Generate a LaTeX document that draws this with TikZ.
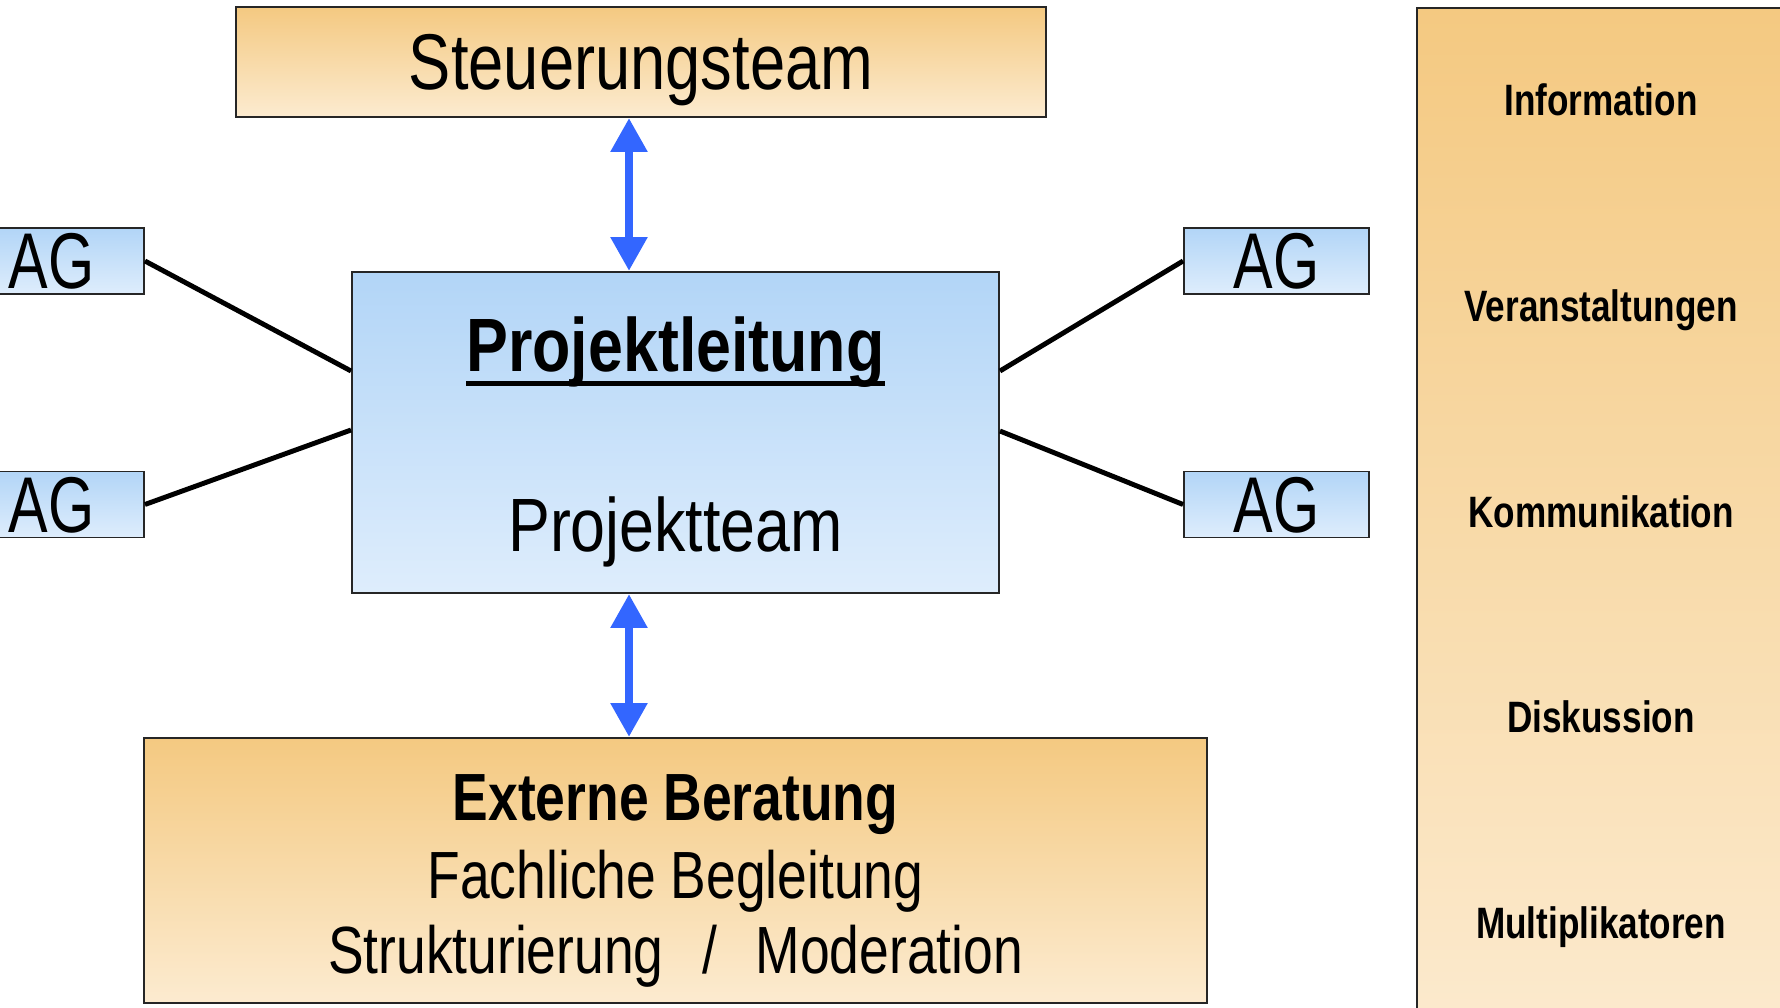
\documentclass[tikz,border=0pt]{standalone}
\usepackage{fontspec}
\setmainfont{Liberation Sans}[FakeStretch=0.8]
\newfontfamily\plschrift{Liberation Sans}[FakeStretch=0.83]
\newfontfamily\agschrift{Liberation Sans}[FakeStretch=0.75]
\usetikzlibrary{arrows.meta,positioning}

\definecolor{orgTop}{HTML}{F4C981}
\definecolor{orgBot}{HTML}{FCEBD0}
\definecolor{bluTop}{HTML}{B2D5F7}
\definecolor{bluBot}{HTML}{DEEDFC}
\definecolor{pfeil}{HTML}{3366FF}
% dicke Unterstreichung
\newcommand{\dickunter}[1]{\setbox0\hbox{#1}\copy0\llap{\rule[-7.8pt]{\wd0}{2.8pt}}}

\tikzset{
  orgbox/.style={draw=black!85, line width=1.1pt, top color=orgTop, bottom color=orgBot, inner sep=0pt},
  blubox/.style={draw=black!85, line width=1.1pt, top color=bluTop, bottom color=bluBot, inner sep=0pt},
  agbox/.style={blubox, minimum width=3.7cm, minimum height=1.32cm, text depth=0pt, font=\fontsize{45}{50}\agschrift},
  agline/.style={line width=2.8pt},
  dblpfeil/.style={pfeil, line width=5pt, {Triangle[length=0.68cm,width=0.7cm]}-{Triangle[length=0.68cm,width=0.7cm]}},
  mediumlabel/.style={anchor=base, font=\fontsize{25}{30}\selectfont\bfseries}
}

\begin{document}
\begin{tikzpicture}
          \useasboundingbox (0,0) rectangle (35.6,20.14);
          \clip (0,0) rectangle (35.6,20.14);

          % boxes
          \node[orgbox, minimum width=16.2cm, minimum height=2.2cm, text depth=0pt, font=\fontsize{45}{50}\selectfont] (steuer) at (12.82,18.9) {Steuerungsteam};
          \node[blubox, minimum width=12.94cm, minimum height=6.42cm] (pl) at (13.51,11.49) {};
          \node[anchor=base, font=\fontsize{43}{48}\plschrift\bfseries] (pltxt) at ([yshift=1.21cm]pl.center) {\dickunter{Projektleitung}};
          \node[anchor=base, font=\fontsize{43}{48}\plschrift] (pttxt) at ([yshift=-2.37cm]pl.center) {Projektteam};
          \node[orgbox, minimum width=21.26cm, minimum height=5.3cm] (extern) at (13.51,2.73) {};
          \node[anchor=base, font=\fontsize{38}{44}\selectfont\bfseries] (ext1) at (13.51,3.74) {Externe Beratung};
          \node[anchor=base, font=\fontsize{38}{44}\selectfont] (ext2) at (13.51,2.18) {Fachliche Begleitung};
          \node[anchor=base, font=\fontsize{38}{44}\selectfont] (ext3) at (13.51,0.68) {Strukturierung\hspace{22pt}/\hspace{22pt}Moderation};

          % arbeitsgruppen
          \node[agbox] (agLO) at (1.03,14.92) {AG};
          \node[agbox] (agLU) at (1.03,10.05) {AG};
          \node[agbox] (agRO) at (25.53,14.92) {AG};
          \node[agbox] (agRU) at (25.53,10.05) {AG};

          % medien
          \node[orgbox, anchor=north west, minimum width=8cm, minimum height=21cm] (medien) at (28.32,20.0) {};
          \foreach \txt [count=\i] in {Information,Veranstaltungen,Kommunikation,Diskussion,Multiplikatoren}
            \node[mediumlabel] (m\i) at (32.02,21.93-4.11*\i) {\txt};

          % verbindungen
          \draw[dblpfeil] ([xshift=-0.24cm]steuer.south) -- ([xshift=-0.93cm]pl.north);
          \draw[dblpfeil] ([xshift=-0.93cm]pl.south) -- ([xshift=-0.93cm]extern.north);
          \draw[agline] (agLO.east) -- ([yshift=1.23cm]pl.west);
          \draw[agline] (agLU.east) -- ([yshift=0.05cm]pl.west);
          \draw[agline] (agRO.west) -- ([yshift=1.23cm]pl.east);
          \draw[agline] (agRU.west) -- ([yshift=0.03cm]pl.east);
\end{tikzpicture}
\end{document}
